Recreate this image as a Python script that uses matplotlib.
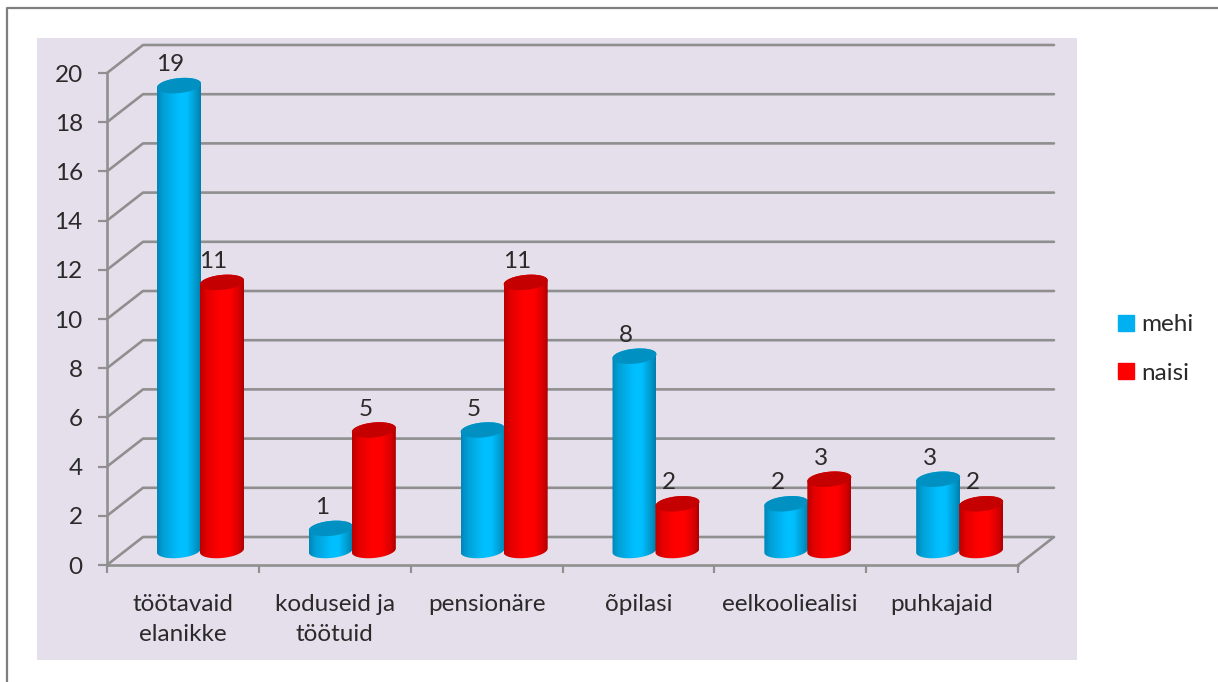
import numpy as np
import matplotlib
matplotlib.use("Agg")
import matplotlib.pyplot as plt
from matplotlib.colors import LinearSegmentedColormap
from matplotlib.lines import Line2D
from matplotlib.patches import Patch, PathPatch, Rectangle
from matplotlib.path import Path

categories = ["töötavaid\nelanikke", "koduseid ja\ntöötuid", "pensionäre",
              "õpilasi", "eelkooliealisi", "puhkajaid"]
mehi = [19, 1, 5, 8, 2, 3]
naisi = [11, 5, 11, 2, 3, 2]
yticks = list(range(0, 21, 2))

W, H = 1218, 682
plt.rcParams['font.family'] = ['Lato', 'DejaVu Sans']
TXT = '#2a2a2a'
GRID = '#8f8f8f'
FS = 17.5
fig = plt.figure(figsize=(W / 100, H / 100), dpi=100, facecolor='white')

# frame and plot background in figure pixels
def fx(x): return x / W
def fy(y): return 1 - y / H
fig.add_artist(Line2D([fx(7), fx(7), fx(W)], [fy(H), fy(8), fy(8)], color='#7f7f7f', lw=1.6, zorder=-2))
fig.add_artist(Rectangle((fx(37), fy(660)), (1077 - 37) / W, (660 - 38) / H,
                         transform=fig.transFigure, color='#E5DFEC', lw=0, zorder=-1))

L, R, T, B = 107, 1018, 73, 565
ax = fig.add_axes([fx(L), fy(B), (R - L) / W, (B - T) / H], facecolor='none')
ax.set_xlim(0, 6)
ax.set_ylim(0, 20)
UX = (R - L) / 6    # px per category
UY = (B - T) / 20   # px per value

# 3D gridlines: diagonal plus back wall
DX, DY = 36 / UX, 28 / UY
line_kw = dict(color=GRID, lw=1.9, clip_on=False, zorder=1, solid_capstyle='round')
for v in yticks:
    if v == 0:
        ax.plot([0, DX, 6 + DX, 6], [v, v + DY, v + DY, v], **line_kw)
    else:
        ax.plot([0, DX, 6 + DX], [v, v + DY, v + DY], **line_kw)

for s in ('top', 'right'):
    ax.spines[s].set_visible(False)
for s in ('left', 'bottom'):
    ax.spines[s].set_color(GRID)
    ax.spines[s].set_linewidth(1.9)
ax.set_yticks(yticks)
ax.set_xticks(range(7))
ax.set_xticklabels([])
ax.set_xticks([i + 0.5 for i in range(6)], minor=True)
ax.set_xticklabels(categories, minor=True, fontsize=FS, color=TXT, linespacing=1.5)
ax.tick_params(axis='x', which='major', length=5.5, width=1.6, color=GRID)
ax.tick_params(axis='x', which='minor', length=0, pad=21)
ax.tick_params(axis='y', length=6.5, width=1.6, color=GRID, pad=11, labelsize=FS, labelcolor=TXT)

blue_cm = LinearSegmentedColormap.from_list('b', [(0, '#0086B8'), (.15, '#00A0D6'), (.5, '#00BFFF'),
                                                  (.68, '#00BFFF'), (.9, '#0096C8'), (1, '#007DAB')])
red_cm = LinearSegmentedColormap.from_list('r', [(0, '#B80000'), (.15, '#E20000'), (.45, '#FF0000'),
                                                 (.68, '#FF0000'), (.9, '#D40000'), (1, '#AC0000')])
BASE = 12 / UY      # floor position of the cylinder top reference
FOOT = 14.5 / UY    # floor position of the cylinder base
AX_H = 22 / UX      # half width
AX_V = 7.5 / UY     # half height of the ellipse
TILT = 2.0 / UY
grad = np.linspace(0, 1, 256).reshape(1, -1)
t = np.linspace(0, 2 * np.pi, 91)

def cylinder(xc, val, cmap, top):
    y0, y1 = FOOT, BASE + val
    # lower half of the base ellipse (left to right), upper side through the top
    ta = np.linspace(np.pi, 2 * np.pi, 45)
    xb = xc + AX_H * np.cos(ta)
    yb = y0 + AX_V * np.sin(ta) + TILT * np.cos(ta)
    tb = np.linspace(0, np.pi, 45)
    xt = xc + AX_H * np.cos(tb)
    yt = y1 + AX_V * np.sin(tb) + TILT * np.cos(tb)
    verts = np.column_stack([np.r_[xb, xt], np.r_[yb, yt]])
    body = PathPatch(Path(np.vstack([verts, verts[0]]), closed=True), fc='none', ec='none',
                     transform=ax.transData, zorder=3)
    ax.add_patch(body)
    im = ax.imshow(grad, cmap=cmap, aspect='auto', zorder=3, interpolation='bilinear',
                   extent=(xc - AX_H, xc + AX_H, y0 - 1, y1 + 1))
    im.set_clip_path(body)
    ax.fill(xc + AX_H * np.cos(t), y1 + AX_V * np.sin(t) + TILT * np.cos(t),
            color=top, lw=0, zorder=3, clip_on=False)
    ax.text(xc - 8.5 / UX, y1 + 21 / UY, str(val), ha='center', va='center',
            fontsize=FS, color=TXT, zorder=5, clip_on=False)

for i, (m, n) in enumerate(zip(mehi, naisi)):
    cylinder(i + 72 / UX, m, blue_cm, '#0091C2')
    cylinder(i + 115 / UX, n, red_cm, '#C40000')
ax.set_xlim(0, 6)
ax.set_ylim(0, 20)

handles = [Patch(color='#00B0F0', label='mehi'), Patch(color='#FF0000', label='naisi')]
fig.legend(handles=handles, loc='upper left', bbox_to_anchor=(fx(1108), fy(304.5)), frameon=False,
           fontsize=FS, labelcolor=TXT, handlelength=0.66, handleheight=0.66,
           handletextpad=0.29, labelspacing=1.13, borderpad=0.4, borderaxespad=0)

fig.savefig('out.png', dpi=100, facecolor='white')
